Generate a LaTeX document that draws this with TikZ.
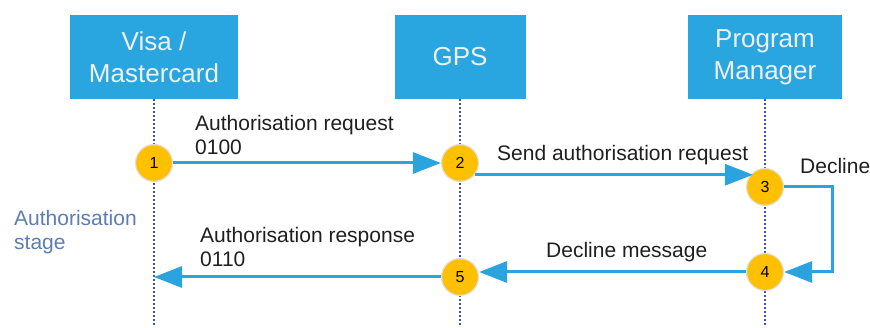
\documentclass[tikz,border=0pt]{standalone}
\usepackage{fontspec}
\setmainfont{Liberation Sans}
\usetikzlibrary{arrows.meta,calc}
\definecolor{boxblue}{HTML}{29A6E0}
\definecolor{arrowblue}{HTML}{2AA3DF}
\definecolor{stepgold}{HTML}{FFC000}
\definecolor{lifeblue}{HTML}{3A57A7}
\definecolor{stagegrey}{HTML}{5B7DB3}
\tikzset{x=1pt, y=-1pt,
  actor box/.style={draw=none, fill=boxblue, text=white!94!black,
        minimum height=84pt, align=center,
        font=\fontsize{26}{32}\selectfont},
  step dot/.style={circle, fill=stepgold, draw=black!12, line width=1.2pt,
        minimum size=37pt, inner sep=0pt,
        font=\fontsize{16}{16}\selectfont},
  life line/.style={draw=lifeblue, line width=1.6pt,
        dash pattern=on 1.6pt off 2.4pt},
  msg/.style={draw=arrowblue, line width=3pt,
        -{Triangle[length=28pt,width=21pt]}},
  msg label/.style={anchor=west, inner sep=0pt, align=left,
        text=black!88, font=\fontsize{21}{24}\selectfont}
}
\def\Actor#1#2#3#4{%
 \node[actor box, minimum width=#3] (#1) at (#2,57) {#4};
 \draw[life line] (#1.south) -- (#1.south |- bottom);
}
\def\Step#1#2#3{%
 \node[step dot] (#1) at (#2) {#3};
}

\begin{document}
\begin{tikzpicture}
\useasboundingbox (0,0) rectangle (870,328);
\coordinate (bottom) at (0,326);
\Actor{visa}{154}{168pt}{Visa /\\Mastercard}
\Actor{gps}{460}{131pt}{GPS}
\Actor{pm}{765}{154pt}{Program\\Manager}
\Step{s1}{visa.south |- 0,163}{1}
\Step{s2}{gps.south |- 0,163}{2}
\Step{s3}{pm.south |- 0,187}{3}
\Step{s4}{pm.south |- 0,272}{4}
\Step{s5}{gps.south |- 0,277}{5}
% messages
\draw[msg] (s1) -- (s2);
\draw[msg] (s2.-38) -- (s2.-38 -| s3.129);
\draw[msg] (s3.east) -- ++(48,0) |- (s4.east);
\draw[msg] (s4.west) -- (s4.west -| s5.east);
\draw[msg] (s5.west) -- (s5.west -| visa.south);
% labels
\node[msg label] (l1) at (195,135) {Authorisation request\\0100};
\node[msg label] (l2) at (497,155) {Send authorisation request};
\node[msg label] (l3) at (800,166) {Decline};
\node[msg label] (l4) at (200,247) {Authorisation response\\0110};
\node[msg label] (l5) at (546,252) {Decline message};
\node[msg label, text=stagegrey] (stage) at (14,232) {Authorisation\\stage};
\end{tikzpicture}
\end{document}
